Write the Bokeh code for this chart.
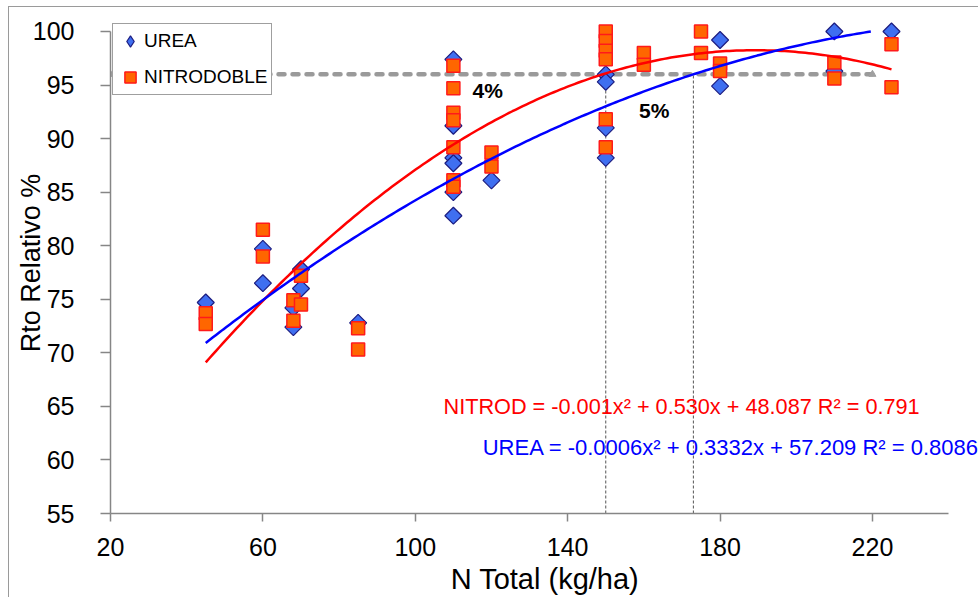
from bokeh.plotting import figure
from bokeh.models import Range1d, FixedTicker, Legend, LegendItem, Label
from bokeh.embed import file_html
from bokeh.resources import INLINE
import numpy as np

# ---------------- data ----------------
urea_x = [45, 60, 60, 68, 68, 70, 70, 85,
          110, 110, 110, 110, 110, 110, 120,
          150, 150, 150, 150, 180, 180, 210, 210, 225]
urea_y = [74.7, 79.7, 76.5, 74.2, 72.4, 77.8, 76.0, 72.8,
          97.4, 91.2, 88.2, 87.7, 85.0, 82.8, 86.1,
          96.0, 95.3, 91.0, 88.2, 99.2, 94.9, 100.0, 96.3, 100.0]

nitro_x = [45, 45, 60, 60, 68, 68, 70, 70, 85, 85,
           110, 110, 110, 110, 110, 110, 110, 120, 120,
           150, 150, 150, 150, 150, 150, 160, 160, 175, 175,
           180, 180, 210, 210, 225, 225]
nitro_y = [73.7, 72.7, 81.5, 79.0, 74.9, 73.0, 77.2, 74.5, 72.3, 70.3,
           96.8, 94.7, 92.4, 91.7, 89.2, 86.1, 85.5, 88.7, 87.4,
           100.0, 99.1, 98.2, 97.4, 91.8, 89.2, 98.0, 96.9, 100.0, 98.0,
           97.0, 96.3, 97.1, 95.6, 98.8, 94.8]

# trend-line coefficients (a, b, c) as drawn, and their x extent
nitro_coef = [-0.0014, 0.530, 48.087]
urea_coef = [-0.00063, 0.3332, 57.209]
trend_x_range = [45, 225]

# reference level and thresholds
ref_level = 96
ref_x = [20, 220]
threshold_x = [150, 173]

x_ticks = [20, 60, 100, 140, 180, 220]
y_ticks = [55, 60, 65, 70, 75, 80, 85, 90, 95, 100]

eq_nitro = "NITROD = -0.001x² + 0.530x + 48.087 R² = 0.791"
eq_urea = "UREA = -0.0006x² + 0.3332x + 57.209 R² = 0.8086"

FONT = "Liberation Sans"
UREA_FILL, UREA_LINE = "#3f6ff0", "#1c1c80"
NITRO_FILL, NITRO_LINE = "#ff6600", "#ff1a1a"

p = figure(width=970, height=591, output_backend="svg", toolbar_location=None,
           x_range=Range1d(20, 248.1), y_range=Range1d(55, 101.77),
           min_border_left=101, min_border_right=0, min_border_top=5,
           min_border_bottom=85)
p.styles = {"margin-left": "8px", "margin-top": "6px",
            "border-left": "1px solid #9a9a9a", "border-top": "1px solid #9a9a9a"}
p.outline_line_color = None
p.xgrid.visible = False
p.ygrid.visible = False

for ax, ticks, bounds, tout in ((p.xaxis, x_ticks, (20, 240), 8), (p.yaxis, y_ticks, (55, 100), 10)):
    ax.ticker = FixedTicker(ticks=ticks)
    ax.bounds = bounds
    ax.axis_line_color = "#868686"
    ax.axis_line_width = 1.5
    ax.major_tick_line_color = "#868686"
    ax.major_tick_line_width = 1.5
    ax.major_tick_out = tout
    ax.major_tick_in = 0
    ax.minor_tick_line_color = None
    ax.major_label_text_font = FONT
    ax.major_label_text_font_size = "25px"
    ax.major_label_text_color = "black"
    ax.axis_label_text_font = FONT
    ax.axis_label_text_font_style = "normal"
    ax.axis_label_text_color = "black"

p.xaxis.major_label_standoff = 16
p.yaxis.major_label_standoff = 26
p.xaxis.axis_label_standoff = 4
p.yaxis.axis_label_standoff = -16
p.xaxis.axis_label = "N Total (kg/ha)"
p.yaxis.axis_label = "Rto Relativo %"
p.xaxis.axis_label_text_font_size = "29px"
p.yaxis.axis_label_text_font_size = "27px"

# reference dashed line at 96 with small end heads
p.line(ref_x, [ref_level, ref_level], line_color="#9a9a9a", line_width=4.5,
       line_dash="6 8", line_cap="round")
p.scatter(ref_x, [ref_level, ref_level], marker="triangle", size=7,
          fill_color="#a0a0a0", line_color="#a0a0a0")

# threshold verticals
p.segment(x0=threshold_x, y0=[55] * len(threshold_x), x1=threshold_x,
          y1=[ref_level] * len(threshold_x), line_color="#555555",
          line_width=1, line_dash="3 2")

# points
r_urea = p.scatter(urea_x, urea_y, marker="square", angle=np.pi / 4, size=12,
                   fill_color=UREA_FILL, line_color=UREA_LINE, line_width=1.2)
r_nitro = p.scatter(nitro_x, nitro_y, marker="square", size=13,
                    fill_color=NITRO_FILL, line_color=NITRO_LINE, line_width=1.5)

# legend-only diamond glyph (not drawn in the plot: NaN position)
r_urea_leg = p.scatter(x=[np.nan], y=[np.nan], marker="diamond", size=12,
                       fill_color=UREA_FILL, line_color=UREA_LINE, line_width=1.2)

# trend lines
tx = np.linspace(trend_x_range[0], trend_x_range[1], 200)
ny = np.polyval(nitro_coef, tx)
uy = np.polyval(urea_coef, tx)
mask = uy <= 100
p.line(tx, ny, line_color="#ff0000", line_width=2.5)
p.line(tx[mask], uy[mask], line_color="#0000ff", line_width=2.5)

# percentage labels
for txt, lx, ly in (("4%", 119, 94.5), ("5%", 162.7, 92.6)):
    p.add_layout(Label(x=lx, y=ly, text=txt, text_font=FONT, text_font_size="21px",
                       text_font_style="bold", text_color="black",
                       text_align="center", text_baseline="middle"))

p.add_layout(Label(x=107.4, y=65.0, text=eq_nitro, text_font=FONT,
                   text_font_size="21.7px", text_color="#ff0000",
                   text_align="left", text_baseline="middle"))
p.add_layout(Label(x=117.7, y=61.2, text=eq_urea, text_font=FONT,
                   text_font_size="22px", text_color="#0000ff",
                   text_align="left", text_baseline="middle"))

legend = Legend(items=[LegendItem(label="UREA", renderers=[r_urea_leg]),
                       LegendItem(label="NITRODOBLE", renderers=[r_nitro])],
                location=(2, 418), margin=0, padding=3, spacing=8,
                glyph_width=28, glyph_height=28, label_height=28, label_standoff=0,
                label_text_font=FONT, label_text_font_size="19px",
                label_text_color="black", border_line_color="#404040",
                border_line_width=1, background_fill_color="white",
                background_fill_alpha=1)
p.add_layout(legend)

open("out.html", "w").write(file_html(p, INLINE))
